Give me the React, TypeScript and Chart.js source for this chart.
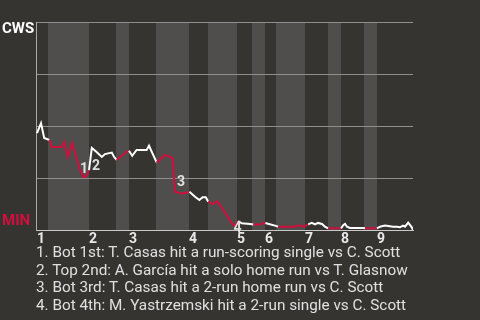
import { useEffect, useRef } from "react";
import { Chart, registerables } from "chart.js";

Chart.register(...registerables);

// ---- data ----
const playIndex = [
  0, 1, 1.8, 3.1, 3.7, 6.2, 6.8, 7.7, 8.8, 9.5, 10.75, 11.6, 12.4, 13.0,
  13.7, 14.9, 16.2, 17, 18.7, 19.25, 19.9, 22.4, 23.0, 23.8, 24.9, 27.4, 28,
  29.9, 32, 32.8, 33.9, 34.5, 36.2, 37.4, 38.1, 39.5, 40.6, 41.4, 42.2, 42.8,
  44, 45.1, 46.6, 48.7, 49.5, 50.3, 51.2, 53.25, 54.1, 55.75, 56.6, 57.1,
  57.75, 59.5, 60.3, 64, 65.75, 66.75, 67.8, 68.7, 69.5, 70.25, 71.25, 72,
  72.8, 76, 76.6, 77, 77.5, 78.25, 81.5, 82, 85, 85.75, 87, 89, 90, 90.75,
  91.5, 92, 92.8, 93.7, 94,
];
const cwsWinPct = [
  46.6, 51.4, 44.2, 43.3, 39.9, 39.9, 42.3, 35.1, 41.8, 37.0, 28.8, 25.5, 26.0,
  28.8, 39.4, 37.5, 35.1, 36.5, 37.2, 35.2, 33.7, 37.6, 38.1, 35.7, 38.5, 38.5,
  40.5, 32.5, 36.1, 35.6, 34.5, 18.4, 17.6, 17.9, 18.4, 16.0, 14.4, 15.7, 15.7,
  13.6, 12.5, 13.9, 9.6, 3.2, 1.9, 4.3, 3.2, 2.9, 2.7, 2.7, 3.2, 3.4, 3.0, 2.1,
  1.6, 1.6, 2.1, 1.6, 2.7, 3.4, 2.7, 3.4, 2.9, 1.6, 0.8, 0.8, 2.4, 2.9, 1.6,
  1.0, 1.0, 0.8, 0.8, 1.6, 2.1, 1.6, 1.6, 1.3, 2.1, 1.6, 3.5, 1.3, 0,
];
const inningStarts = [0, 13, 23, 38, 50, 57, 67, 76, 85];
const inningLabels = ["1", "2", "3", "4", "5", "6", "7", "8", "9"];
const bottomHalfStart = [2.75, 19.75, 29.75, 42.75, 53.75, 59.75, 72.75, 81.75];
const bottomHalfEnd = [13, 23, 38, 50, 57, 67, 76, 85];
const lastPlay = 94;
const yTicks = [0, 25, 50, 75, 100];
const awayTeam = "CWS";
const homeTeam = "MIN";
const eventPoint = [11, 13, 31, 44];
const eventNumbers = ["1", "2", "3", "4"];
const eventNotes = [
  "1. Bot 1st: T. Casas hit a run-scoring single vs C. Scott",
  "2. Top 2nd: A. García hit a solo home run vs T. Glasnow",
  "3. Bot 3rd: T. Casas hit a 2-run home run vs C. Scott",
  "4. Bot 4th: M. Yastrzemski hit a 2-run single vs C. Scott",
];

// ---- styles ----
const BG = "#363430";
const BAND = "#4f4e4c";
const RED = "#d10f3f";
const WHITE = "#ffffff";
const GRID = "#8f8f8f";
const FONT = "Roboto, 'Noto Sans', sans-serif";
const eventOffsets = [
  [0.6, -8],
  [7, -5],
  [6, -10],
  [2.5, 1],
];

const isBottomHalf = (x: number) =>
  bottomHalfStart.some((s, i) => x >= s && x < bottomHalfEnd[i]);

const bandsPlugin = {
  id: "bands",
  beforeDraw(chart: any) {
    const { ctx, chartArea, scales } = chart;
    const x = scales.x;
    ctx.save();
    ctx.fillStyle = BAND;
    bottomHalfStart.forEach((s: number, i: number) => {
      const x0 = x.getPixelForValue(s);
      const x1 = x.getPixelForValue(bottomHalfEnd[i]);
      ctx.fillRect(x0, chartArea.top, x1 - x0, chartArea.bottom - chartArea.top);
    });
    ctx.restore();
  },
};

const labelsPlugin = {
  id: "labels",
  afterDraw(chart: any) {
    const { ctx, chartArea } = chart;
    ctx.save();
    ctx.font = `bold 15px ${FONT}`;
    ctx.textAlign = "left";
    ctx.textBaseline = "alphabetic";
    ctx.fillStyle = WHITE;
    ctx.fillText(awayTeam, 2, chartArea.top + 11.3);
    ctx.fillStyle = RED;
    ctx.fillText(homeTeam, 2, chartArea.bottom - 5);

    const meta = chart.getDatasetMeta(0);
    ctx.font = `bold 14px ${FONT}`;
    ctx.textAlign = "center";
    ctx.textBaseline = "middle";
    ctx.fillStyle = "rgba(232,232,232,0.95)";
    eventPoint.forEach((idx: number, i: number) => {
      const el = meta.data[idx];
      if (!el) return;
      ctx.fillText(eventNumbers[i], el.x + eventOffsets[i][0], el.y + eventOffsets[i][1] + 1);
    });
    ctx.restore();
  },
};

export default function App() {
  const ref = useRef<HTMLCanvasElement | null>(null);

  useEffect(() => {
    if (!ref.current) return;
    const chart = new Chart(ref.current, {
      type: "line",
      data: {
        datasets: [
          {
            data: playIndex.map((x, i) => ({ x, y: cwsWinPct[i] })),
            borderColor: WHITE,
            borderWidth: 2,
            pointRadius: 0,
            tension: 0,
            segment: {
              borderColor: (c: any) => (isBottomHalf(c.p0.parsed.x) ? RED : WHITE),
            },
          },
        ],
      },
      options: {
        animation: false,
        responsive: false,
        events: [],
        layout: { padding: { left: 36, top: 22, right: 67, bottom: 70 } },
        plugins: { legend: { display: false }, tooltip: { enabled: false } },
        scales: {
          x: {
            type: "linear",
            min: -0.25,
            max: lastPlay,
            grid: { display: false, drawTicks: false },
            border: { display: true, color: "#c8c8c8" },
            afterBuildTicks: (s: any) => {
              s.ticks = inningStarts.map((v) => ({ value: v }));
            },
            afterFit: (s: any) => {
              s.height = 20;
            },
            ticks: {
              autoSkip: false,
              maxRotation: 0,
              align: "start",
              padding: 1,
              color: "#e8e8e8",
              font: { family: FONT, size: 14, weight: "bold" },
              callback: (_v: any, i: number) => inningLabels[i],
            },
          },
          y: {
            min: 0,
            max: 100,
            afterBuildTicks: (s: any) => {
              s.ticks = yTicks.map((v) => ({ value: v }));
            },
            afterFit: (s: any) => {
              s.width = 0;
            },
            ticks: { display: false },
            grid: {
              drawTicks: false,
              color: (c: any) => (c.tick && c.tick.value === 0 ? "#c8c8c8" : GRID),
            },
            border: { display: true, color: "#aaaaaa" },
          },
        },
      },
      plugins: [bandsPlugin, labelsPlugin],
    } as any);
    return () => chart.destroy();
  }, []);

  return (
    <div
      style={{
        position: "fixed",
        left: 0,
        top: 0,
        width: 480,
        height: 320,
        background: BG,
        fontFamily: FONT,
        overflow: "hidden",
      }}
    >
      <canvas ref={ref} width={480} height={320} style={{ position: "absolute", left: 0, top: 0 }} />
      <div
        style={{
          position: "absolute",
          left: 36,
          top: 244.2,
          color: "#e0e0e0",
          fontSize: 15.3,
          lineHeight: "17.6px",
          whiteSpace: "nowrap",
        }}
      >
        {eventNotes.map((t, i) => (
          <div key={i}>{t}</div>
        ))}
      </div>
    </div>
  );
}
